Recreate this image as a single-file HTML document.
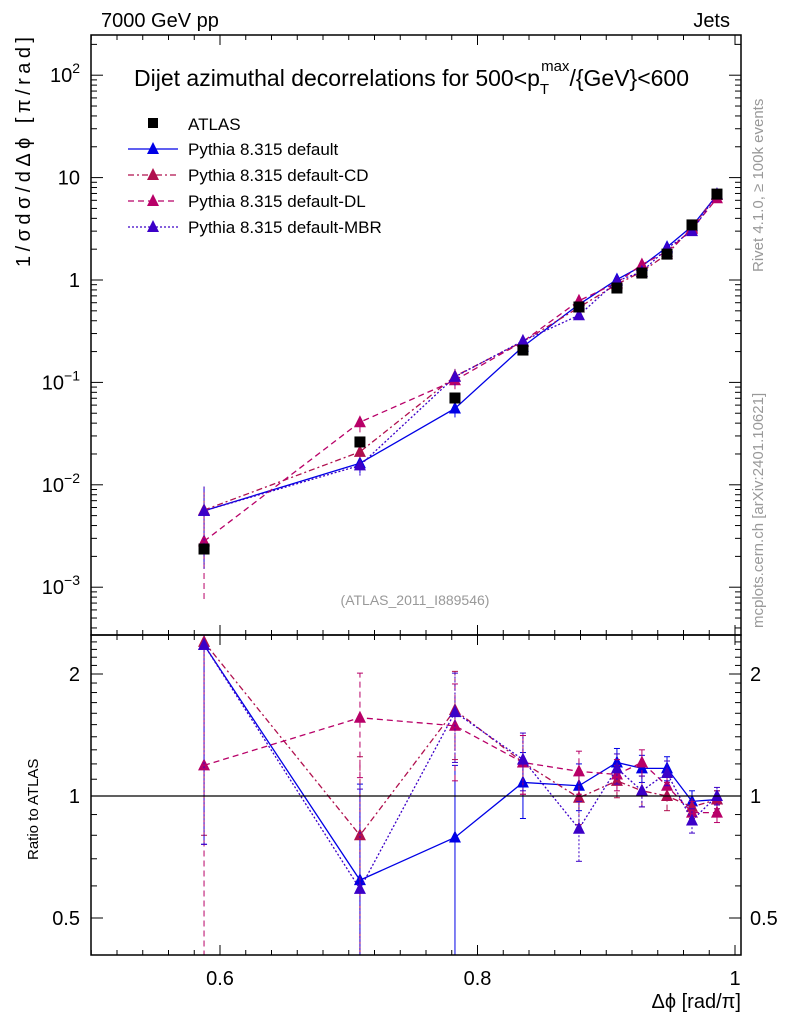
<!DOCTYPE html>
<html><head><meta charset="utf-8"><style>
html,body{margin:0;padding:0;background:#fff;overflow:hidden;width:786px;height:1024px}
svg{display:block}
svg text{font-family:"Liberation Sans",sans-serif}
</style></head><body>
<svg id="c" width="786" height="1024" xmlns="http://www.w3.org/2000/svg"></svg>
<script>
const xs=[0.5876,0.7087,0.7825,0.8353,0.8788,0.9083,0.9277,0.9472,0.9666,0.986];
const atlas=[0.00236,0.0262,0.0704,0.207,0.545,0.835,1.17,1.79,3.45,6.9];
const rDefault=[2.36,0.62,0.79,1.08,1.06,1.21,1.17,1.17,0.97,0.98];
const rCD=[2.4,0.80,1.63,1.21,0.99,1.09,1.03,1.0,0.94,0.98];
const rDL=[1.19,1.56,1.49,1.21,1.15,1.13,1.21,1.06,0.91,0.91];
const rMBR=[2.36,0.59,1.61,1.23,0.83,1.17,1.03,1.14,0.87,1.0];
const rErr=[1.6,0.45,0.4,0.2,0.14,0.1,0.09,0.08,0.06,0.05];
const xTicks=[0.6,0.8,1];
const ratioTicks=[0.5,1,2];
const NS="http://www.w3.org/2000/svg";
const svg=document.getElementById('c');
const L=91,R=741,T=35,MB=635,RB=955;
const X=v=>220+(v-0.6)*1287.5;
const Y=v=>280-Math.log10(v)*102.4;
const YR=v=>796-Math.log2(v)*122;
function el(t,a,p){const e=document.createElementNS(NS,t);for(const k in a)e.setAttribute(k,a[k]);(p||svg).appendChild(e);return e;}
function txt(s,x,y,a,name){const e=el('text',Object.assign({x:x,y:y,'font-size':20},a||{}));e.textContent=s;return e;}
const defs=el('defs',{});
const c1=el('clipPath',{id:'cm'},defs);el('rect',{x:L,y:T,width:R-L,height:MB-T},c1);
const c2=el('clipPath',{id:'cr'},defs);el('rect',{x:L,y:MB,width:R-L,height:RB-MB},c2);
const gm=el('g',{'clip-path':'url(#cm)'});
const gr=el('g',{'clip-path':'url(#cr)'});
let f=el('rect',{x:L,y:T,width:R-L,height:MB-T,fill:'none',stroke:'#000','stroke-width':1.5});
f=el('rect',{x:L,y:MB,width:R-L,height:RB-MB,fill:'none',stroke:'#000','stroke-width':1.5});
for(let v=0.5;v<=1.0001;v+=0.02){const x=X(v);const major=Math.abs(Math.round(v*10)-v*10)<1e-6&&Math.round(v*10)%2==0;const len=major?10:5;
 [[T,1],[MB,-1],[MB,1],[RB,-1]].forEach(([y,d])=>el('line',{x1:x,x2:x,y1:y,y2:y+d*len,stroke:'#000'}));}
xTicks.forEach(v=>txt(String(v),X(v),985,{'text-anchor':'middle'},'x-tick-label'));
txt('Δϕ [rad/π]',741,1008,{'text-anchor':'end'},'x-axis-title');
for(let e=-4;e<=2;e++){for(let m=1;m<10;m++){const v=m*Math.pow(10,e);const y=Y(v);if(y<T||y>MB)continue;const len=m==1?12:6;
 el('line',{x1:L,x2:L+len,y1:y,y2:y,stroke:'#000'});el('line',{x1:R,x2:R-len,y1:y,y2:y,stroke:'#000'});}}
[[2,'10'],[1,'10'],[0,'1'],[-1,'10'],[-2,'10'],[-3,'10']].forEach(([e,b])=>{const y=Y(Math.pow(10,e))+7;
 const t=txt(b,80,y,{'text-anchor':'end'},'y-tick-label');
 if(e!=1&&e!=0){const s=el('tspan',{'font-size':14,dy:-9},t);s.textContent=(e<0?'−':'')+Math.abs(e);}
});
txt('1/σdσ/dΔϕ [π/rad]',0,0,{transform:'translate(30,37) rotate(-90)','text-anchor':'end','font-size':20,textLength:230,lengthAdjust:'spacing'},'y-axis-title');
for(let v=0.4;v<=2.5;v+=0.1){const y=YR(v);if(y<MB||y>RB)continue;const maj=ratioTicks.some(t=>Math.abs(t-v)<1e-6);const len=maj?12:6;
 el('line',{x1:L,x2:L+len,y1:y,y2:y,stroke:'#000'});el('line',{x1:R,x2:R-len,y1:y,y2:y,stroke:'#000'});}
ratioTicks.forEach(v=>{txt(String(v),80,YR(v)+7,{'text-anchor':'end'},'ratio-tick-label');txt(String(v),750,YR(v)+7,{},'ratio-tick-label-right');});
txt('Ratio to ATLAS',0,0,{transform:'translate(38,860) rotate(-90)','font-size':15},'ratio-axis-title');
let ln=el('line',{x1:L,x2:R,y1:YR(1),y2:YR(1),stroke:'#000','stroke-width':1.2});
const series=[
 {name:'default',r:rDefault,col:'#0000e6',dash:'',lab:'Pythia 8.315 default'},
 {name:'cd',r:rCD,col:'#b0104e',dash:'6,3,2,3',lab:'Pythia 8.315 default-CD'},
 {name:'dl',r:rDL,col:'#b80068',dash:'6,4',lab:'Pythia 8.315 default-DL'},
 {name:'mbr',r:rMBR,col:'#3c00c8',dash:'2,2',lab:'Pythia 8.315 default-MBR'}];
function tri(g,x,y,col){return el('polygon',{points:`${x},${y-7} ${x-6},${y+5} ${x+6},${y+5}`,fill:col},g);}
series.forEach(s=>{
 const gM=el('g',{},gm);
 const gR=el('g',{},gr);
 const mv=s.r.map((r,i)=>r*atlas[i]);
 el('polyline',{points:mv.map((v,i)=>X(xs[i])+','+Y(v)).join(' '),fill:'none',stroke:s.col,'stroke-width':1.3,'stroke-dasharray':s.dash},gM);
 el('polyline',{points:s.r.map((v,i)=>X(xs[i])+','+YR(v)).join(' '),fill:'none',stroke:s.col,'stroke-width':1.3,'stroke-dasharray':s.dash},gR);
 mv.forEach((v,i)=>{const x=X(xs[i]);const fe=rErr[i]/2.2;const lo=Math.max(v*(1-Math.min(fe,0.95)),1e-6),hi=v*(1+fe);
  el('line',{x1:x,x2:x,y1:Y(lo),y2:Y(hi),stroke:s.col,'stroke-dasharray':s.dash},gM);
  const p=tri(gM,x,Y(v),s.col);});
 s.r.forEach((v,i)=>{const x=X(xs[i]);const lo=Math.max(v-rErr[i],0.01),hi=v+rErr[i];
  el('line',{x1:x,x2:x,y1:YR(lo),y2:YR(hi),stroke:s.col,'stroke-dasharray':s.dash},gR);
  el('line',{x1:x-3,x2:x+3,y1:YR(hi),y2:YR(hi),stroke:s.col},gR);el('line',{x1:x-3,x2:x+3,y1:YR(lo),y2:YR(lo),stroke:s.col},gR);
  const p=tri(gR,x,YR(v),s.col);});
});
const ga=el('g',{},gm);
atlas.forEach((v,i)=>{const x=X(xs[i]);const r=el('rect',{x:x-5.5,y:Y(v)-5.5,width:11,height:11,fill:'#000'},ga);});
const lg=el('g',{});
el('rect',{x:148,y:118,width:10,height:10,fill:'#000'},lg);
txt('ATLAS',188,130,{'font-size':17},'legend-entry');
series.forEach((s,k)=>{const y=149+k*26;
 el('line',{x1:128,x2:178,y1:y,y2:y,stroke:s.col,'stroke-width':1.3,'stroke-dasharray':s.dash},lg);tri(lg,153,y,s.col);
 txt(s.lab,188,y+6,{'font-size':17},'legend-entry');});
const tt=txt('Dijet azimuthal decorrelations for 500<p',134,86,{'font-size':23},'plot-title');
let sp=el('tspan',{'font-size':15,dy:8},tt);sp.textContent='T';
sp=el('tspan',{'font-size':15,dx:-8,dy:-23},tt);sp.textContent='max';
sp=el('tspan',{dy:15},tt);sp.textContent='/{GeV}<600';
txt('7000 GeV pp',101,27,{'font-size':20},'beam-label');
txt('Jets',730,27,{'font-size':20,'text-anchor':'end'},'analysis-label');
txt('(ATLAS_2011_I889546)',415,605,{'font-size':14,fill:'#999','text-anchor':'middle'},'analysis-id');
txt('Rivet 4.1.0, ≥ 100k events',0,0,{transform:'translate(763,272) rotate(-90)','font-size':15,fill:'#999'},'rivet-label');
txt('mcplots.cern.ch [arXiv:2401.10621]',0,0,{transform:'translate(763,628) rotate(-90)','font-size':15,fill:'#999'},'mcplots-label');
</script>
</body></html>
